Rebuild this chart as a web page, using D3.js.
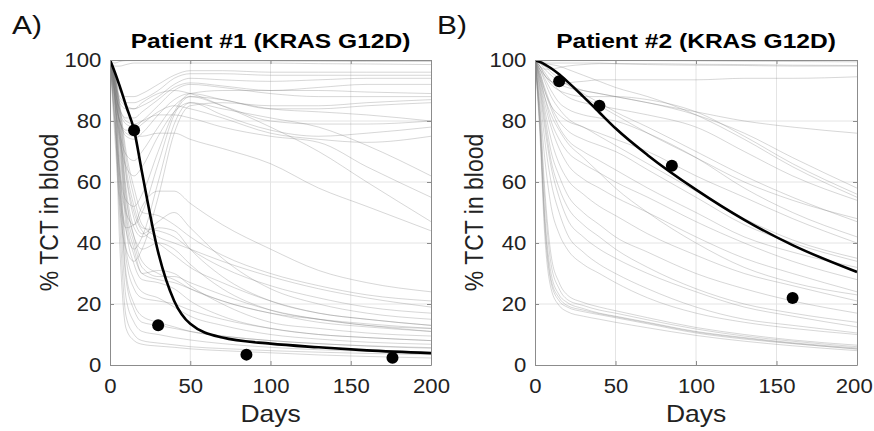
<!DOCTYPE html>
<html>
<head>
<meta charset="utf-8">
<script src="https://cdn.jsdelivr.net/npm/d3@7"></script>
<style>
  body { margin: 0; background: #fff; }
  text { font-family: "Liberation Sans", Arial, Helvetica, sans-serif; fill: #222; }
</style>
</head>
<body>
<div id="chart-area"></div>
<script>

// sample days shared by every simulated run and by the fitted curves
var DAYS = [0, 3, 6, 10, 15, 20, 30, 40, 50, 70, 100, 130, 160, 200];

var X_TICKS = [0, 50, 100, 150, 200];
var Y_TICKS = [0, 20, 40, 60, 80, 100];

// Patient #1
var A_TITLE = "Patient #1 (KRAS G12D)";
var A_FIT = [100, 96, 91.5, 85, 77, 63, 37, 21, 13.5, 9, 7, 5.8, 4.8, 3.9];
var A_OBS_DAYS = [15, 30, 85, 176];
var A_OBS = [77, 13, 3.4, 2.4];
var A_RUNS = [
  [100, 99, 99.5, 99.8, 99.8, 99.8, 99.8, 99.8, 99.8, 99.8, 99.7, 99.6, 99.5, 99.5],
  [100, 98, 98, 98.5, 99, 99, 99, 99, 99, 99, 99, 98.8, 98.7, 98.5],
  [100, 94, 90, 88, 88, 89, 92, 95, 96.5, 96.5, 96, 96, 96, 96],
  [100, 93, 88, 86, 86, 87, 90, 94, 95.5, 95.5, 95, 95, 95, 95],
  [100, 92, 87, 85, 84, 85, 88, 92, 94, 93.5, 93, 93.5, 94, 94],
  [100, 90, 84, 81, 81, 83, 87, 91, 92.5, 91.5, 90, 90, 89.5, 89],
  [100, 90, 83, 79, 78, 80, 85, 90, 92, 91, 89, 88, 88, 88],
  [100, 88, 80, 75, 74, 76, 82, 87, 89, 87, 84, 83, 82, 80],
  [100, 86, 76, 69, 67, 70, 78, 85, 88, 85, 80, 79, 79, 80],
  [100, 85, 74, 65, 62, 65, 75, 83, 86, 82, 77, 75, 76, 78],
  [100, 80, 62, 50, 46, 50, 66, 82, 88, 87, 84, 84, 85, 86],
  [100, 78, 58, 44, 38, 42, 60, 79, 86, 84, 81, 78, 72, 62],
  [100, 75, 52, 38, 34, 38, 55, 76, 85, 86, 85, 85, 86, 87],
  [100, 82, 64, 54, 52, 56, 70, 83, 89, 90, 90, 91, 92, 92],
  [100, 88, 80, 77, 77, 79, 83, 85, 84, 81, 76, 74, 73, 75],
  [100, 92, 86, 84, 84, 86, 89, 90, 89, 85, 78, 70, 60, 47],
  [100, 90, 84, 80, 79, 80, 82, 82, 81, 78, 75, 73, 65, 55],
  [100, 88, 80, 76, 75, 75, 76, 76, 74, 71, 66, 58, 52, 44],
  [100, 80, 55, 45, 46, 52, 57, 57, 53, 46, 38, 31, 27, 24],
  [100, 85, 40, 12, 8, 6.8, 6.2, 5.8, 5.3, 4.7, 4, 3.3, 2.8, 2.3],
  [100, 87, 48, 16, 10, 8, 7.2, 6.6, 6, 5.4, 4.7, 4.2, 3.8, 3.4],
  [100, 88, 55, 22, 14, 11, 10, 9, 8.2, 7, 5.8, 5, 4.5, 4],
  [100, 90, 62, 30, 20, 16, 14, 12.5, 11, 9.5, 8, 7, 6.3, 5.7],
  [100, 91, 68, 38, 28, 24, 22, 19, 16, 13, 10, 8.5, 7.5, 6.8],
  [100, 92, 72, 45, 33, 28, 27, 25, 21, 16, 12, 10, 9, 8],
  [100, 93, 76, 50, 38, 30, 31, 30, 26, 20, 14, 12, 10.5, 9.5],
  [100, 93, 78, 55, 42, 38, 40, 38, 33, 25, 18, 15, 13, 11],
  [100, 94, 80, 58, 45, 42, 45, 44, 38, 29, 21, 17, 15, 13],
  [100, 94, 82, 62, 48, 43, 47, 50, 45, 35, 25, 20, 17, 15],
  [100, 95, 84, 65, 52, 45, 44, 42, 38, 32, 26, 22, 19, 17],
  [100, 95, 85, 68, 55, 46, 42, 40, 38, 34, 29, 25, 22, 19],
  [100, 92, 74, 48, 36, 30, 28, 27, 25, 21, 17, 14, 12.5, 11],
  [100, 90, 65, 35, 25, 22, 21, 20, 18, 15, 12, 10, 9, 8],
  [100, 89, 60, 28, 18, 14, 13, 12, 11, 9.5, 8, 7, 6.2, 5.5],
  [100, 94, 80, 56, 42, 34, 30, 28, 25, 21, 17, 15, 13.5, 12],
  [100, 96, 86, 70, 58, 50, 49, 46, 42, 36, 30, 26, 23, 21],
  [100, 93, 77, 52, 40, 32, 29, 29, 27, 23, 18, 15, 13, 12],
  [100, 95, 83, 63, 50, 44, 40, 36, 32, 27, 21, 17, 15, 13]
];

// Patient #2
var B_TITLE = "Patient #2 (KRAS G12D)";
var B_FIT = [100, 99.4, 98.6, 97.3, 95.3, 93, 88, 82.8, 77.6, 68.8, 57.5, 47.6, 39.3, 30.5];
var B_OBS_DAYS = [15, 40, 85, 160];
var B_OBS = [93, 85, 65.3, 22];
var B_RUNS = [
  [100, 99.5, 99.7, 99.8, 99.8, 99.8, 99.8, 99.8, 99.8, 99.8, 99.7, 99.6, 99.5, 99.4],
  [100, 99, 99, 99, 99, 99, 99, 99, 98.8, 98.5, 98.3, 98.2, 98, 98],
  [100, 98, 97, 97, 97.5, 98, 98.5, 98.8, 98.8, 98.8, 98.6, 98.5, 98.3, 98.2],
  [100, 98, 95, 93, 92, 92.5, 93, 93.5, 93.5, 93.5, 93.5, 94, 94, 94.5],
  [100, 99, 97, 95, 93, 92, 90, 89, 88, 86, 82, 76, 68, 58],
  [100, 98, 96, 93, 90, 88, 86, 85, 84, 82, 78, 70, 62, 54],
  [100, 97, 94, 90, 86, 84, 82, 81, 80, 76, 68, 58, 50, 42],
  [100, 97, 93, 88, 84, 81, 78, 76, 74, 70, 62, 55, 48, 40],
  [100, 96, 91, 85, 80, 77, 74, 72, 70, 64, 55, 46, 40, 34],
  [100, 96, 90, 84, 78, 74, 70, 67, 64, 58, 50, 42, 37, 32],
  [100, 95, 88, 80, 74, 70, 66, 63, 60, 55, 47, 40, 34, 28],
  [100, 94, 86, 78, 71, 66, 61, 58, 55, 50, 42, 35, 30, 24],
  [100, 93, 84, 74, 66, 61, 56, 52, 49, 43, 36, 30, 26, 21],
  [100, 92, 82, 70, 62, 56, 50, 46, 42, 37, 30, 25, 21, 17],
  [100, 91, 80, 67, 58, 52, 46, 42, 38, 32, 25, 20, 17, 14],
  [100, 98, 95, 92, 90, 89, 88, 88, 88, 87, 83, 75, 66, 56],
  [100, 97, 95, 93, 92, 91, 90, 89, 88, 86, 83, 80, 78, 76],
  [100, 99, 98, 96, 94, 92, 88, 85, 82, 76, 68, 60, 54, 48],
  [100, 99.5, 99, 98.5, 98, 97, 95, 93, 91, 88, 82, 74, 65, 55],
  [100, 99, 98, 97, 95, 93, 89, 86, 83, 78, 70, 62, 55, 47],
  [100, 95, 90, 85, 82, 80, 78, 75, 72, 66, 57, 48, 41, 35],
  [100, 94, 88, 82, 77, 73, 68, 63, 58, 50, 40, 32, 27, 23],
  [100, 90, 78, 65, 55, 48, 42, 38, 35, 30, 24, 19, 16, 12.5],
  [100, 88, 74, 60, 50, 43, 37, 33, 30, 25, 19, 15, 13, 10.5],
  [100, 85, 68, 52, 43, 38, 33, 30, 27, 22, 17, 14, 12, 10],
  [100, 80, 50, 30, 23, 20.5, 18.5, 17, 16, 14, 11, 9, 7.3, 5.6],
  [100, 78, 46, 27, 21, 19, 17.5, 16.5, 15.5, 13.5, 10.5, 8.5, 7, 5.2],
  [100, 82, 55, 33, 25, 21.5, 19.5, 18, 17, 14.8, 11.8, 9.5, 7.8, 6],
  [100, 76, 43, 25, 19.5, 17.5, 16, 15, 14, 12.2, 9.7, 7.8, 6.3, 4.7],
  [100, 84, 58, 36, 27, 23, 20.5, 19, 17.8, 15.5, 12.3, 10, 8.2, 6.5],
  [100, 79, 48, 28, 22, 19.5, 18, 16.8, 15.8, 13.8, 10.8, 8.8, 7.1, 5.3]
];

var W = 874, H = 431;
var STRETCH = 1.15;   // the source text is a little wide

var svg = d3.select("#chart-area")
    .append("svg")
    .attr("width", W)
    .attr("height", H);

function drawPanel(left, right, letter, title, runs, fit, obsDays, obs, id) {
    var top = 60, bottom = 365;
    var width = right - left, height = bottom - top;

    var g = svg.append("g")
        .attr("transform", "translate(" + left + "," + top + ")");

    var x = d3.scaleLinear().domain([0, 200]).range([0, width]);
    var y = d3.scaleLinear().domain([0, 100]).range([height, 0]);

    g.append("clipPath").attr("id", id)
        .append("rect").attr("width", width).attr("height", height);

    // grid
    g.selectAll(".xgrid").data(X_TICKS.slice(1, -1)).enter()
        .append("line")
        .attr("x1", function(d){ return x(d); })
        .attr("x2", function(d){ return x(d); })
        .attr("y1", 0).attr("y2", height)
        .style("stroke", "#e4e4e4");
    g.selectAll(".ygrid").data(Y_TICKS.slice(1, -1)).enter()
        .append("line")
        .attr("y1", function(d){ return y(d); })
        .attr("y2", function(d){ return y(d); })
        .attr("x1", 0).attr("x2", width)
        .style("stroke", "#e4e4e4");

    var line = d3.line()
        .x(function(d, i){ return x(DAYS[i]); })
        .y(function(d){ return y(d); })
        .curve(d3.curveMonotoneX);

    var plot = g.append("g").attr("clip-path", "url(#" + id + ")");

    plot.selectAll(".run").data(runs).enter()
        .append("path")
        .attr("class", "run")
        .attr("d", line)
        .style("fill", "none")
        .style("stroke", "#7a7a7a")
        .style("stroke-opacity", 0.3)
        .style("stroke-width", 1);

    plot.append("path")
        .datum(fit)
        .attr("d", line)
        .style("fill", "none")
        .style("stroke", "#000")
        .style("stroke-width", 2.6);

    plot.selectAll(".dot").data(obs).enter()
        .append("circle")
        .attr("cx", function(d, i){ return x(obsDays[i]); })
        .attr("cy", function(d){ return y(d); })
        .attr("r", 6)
        .style("fill", "#000");

    // axes, MATLAB style: ticks inside, box all round
    var axColor = "#8c8c8c";
    var xAxis = g.append("g")
        .attr("transform", "translate(0," + height + ")")
        .call(d3.axisBottom(x).tickValues(X_TICKS).tickSizeInner(-4).tickSizeOuter(0).tickPadding(13));
    var yAxis = g.append("g")
        .call(d3.axisLeft(y).tickValues(Y_TICKS).tickSizeInner(-4).tickSizeOuter(0).tickPadding(8));
    var tAxis = g.append("g")
        .call(d3.axisTop(x).tickValues(X_TICKS).tickSizeInner(-4).tickSizeOuter(0).tickFormat(""));
    var rAxis = g.append("g")
        .attr("transform", "translate(" + width + ",0)")
        .call(d3.axisRight(y).tickValues(Y_TICKS).tickSizeInner(-4).tickSizeOuter(0).tickFormat(""));

    [xAxis, yAxis, tAxis, rAxis].forEach(function(a){
        a.select(".domain").style("stroke", axColor);
        a.selectAll("line").style("stroke", axColor);
        a.selectAll("text")
            .attr("font-size", "20.5px")
            .attr("font-family", "Liberation Sans, Arial, sans-serif")
            .style("fill", "#222")
            .attr("transform", "scale(1.08,1)");
    });

    // keep the last day label inside the window
    xAxis.selectAll(".tick text")
        .filter(function(d){ return d === 200; })
        .attr("dx", left + width > 800 ? "-3" : "0");

    // title
    g.append("text")
        .attr("transform", "translate(" + (width / 2) + "," + (-12) + ") scale(1.17,1)")
        .attr("text-anchor", "middle")
        .attr("font-size", "21px")
        .attr("font-weight", "bold")
        .style("fill", "#000")
        .text(title);

    // x label
    g.append("text")
        .attr("transform", "translate(" + (width / 2) + "," + (height + 57) + ") scale(" + STRETCH + ",1)")
        .attr("text-anchor", "middle")
        .attr("font-size", "23px")
        .text("Days");

    // y label
    g.append("text")
        .attr("transform", "translate(-52," + (height / 2) + ") scale(" + STRETCH + ",1) rotate(-90)")
        .attr("text-anchor", "middle")
        .attr("font-size", "23px")
        .text("% TCT in blood");

    // panel letter
    svg.append("text")
        .attr("transform", "translate(" + (left - 98) + ",34) scale(" + STRETCH + ",1)")
        .attr("font-size", "26px")
        .attr("font-family", "Open Sans, Noto Sans, sans-serif")
        .style("fill", "#111")
        .text(letter);
}

drawPanel(110, 431, "A)", A_TITLE, A_RUNS, A_FIT, A_OBS_DAYS, A_OBS, "clipA");
drawPanel(535, 857, "B)", B_TITLE, B_RUNS, B_FIT, B_OBS_DAYS, B_OBS, "clipB");

</script>
</body>
</html>
